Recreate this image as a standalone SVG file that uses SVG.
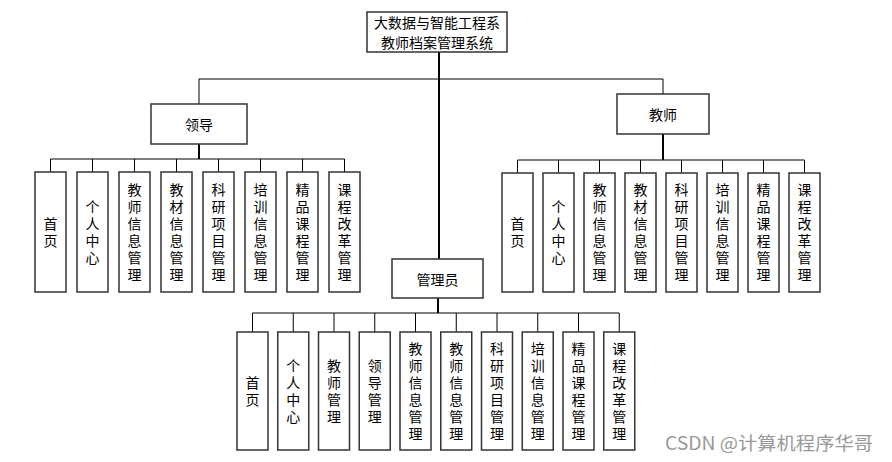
<svg xmlns="http://www.w3.org/2000/svg" width="892" height="462" viewBox="0 0 892 462">
<style>
.box{fill:#fff;stroke:#333;stroke-width:1.5}
.t{font-family:"Noto Sans CJK SC","Noto Sans",sans-serif;font-size:14px;fill:#000;text-anchor:middle;dominant-baseline:central}
.v{font-family:"Noto Sans CJK SC","Noto Sans",sans-serif;font-size:14px;fill:#000;text-anchor:middle;writing-mode:vertical-rl;letter-spacing:3px}
.c line{stroke:#000;stroke-width:1}
.c .th{stroke-width:2}
.wm{font-family:"Noto Sans CJK SC","Liberation Sans",sans-serif;font-size:18px;fill:#999}
</style>
<rect width="892" height="462" fill="#fff"/>
<g class="c" id="connectors">
<line class="th" x1="439" y1="52" x2="439" y2="259"/>
<line x1="199" y1="79" x2="663" y2="79"/>
<line x1="199" y1="79" x2="199" y2="104"/>
<line x1="663" y1="79" x2="663" y2="94"/>
<line class="th" x1="199" y1="144" x2="199" y2="159"/>
<line x1="50.5" y1="159" x2="344.5" y2="159"/>
<line x1="50.5" y1="159" x2="50.5" y2="172"/>
<line x1="92.5" y1="159" x2="92.5" y2="172"/>
<line x1="134.5" y1="159" x2="134.5" y2="172"/>
<line x1="176.5" y1="159" x2="176.5" y2="172"/>
<line x1="218.5" y1="159" x2="218.5" y2="172"/>
<line x1="260.5" y1="159" x2="260.5" y2="172"/>
<line x1="302.5" y1="159" x2="302.5" y2="172"/>
<line x1="344.5" y1="159" x2="344.5" y2="172"/>
<line class="th" x1="663" y1="134" x2="663" y2="160"/>
<line x1="517.5" y1="160" x2="804.5" y2="160"/>
<line x1="517.5" y1="160" x2="517.5" y2="173"/>
<line x1="558.5" y1="160" x2="558.5" y2="173"/>
<line x1="599.5" y1="160" x2="599.5" y2="173"/>
<line x1="640.5" y1="160" x2="640.5" y2="173"/>
<line x1="681.5" y1="160" x2="681.5" y2="173"/>
<line x1="722.5" y1="160" x2="722.5" y2="173"/>
<line x1="763.5" y1="160" x2="763.5" y2="173"/>
<line x1="804.5" y1="160" x2="804.5" y2="173"/>
<line class="th" x1="438" y1="298" x2="438" y2="313"/>
<line x1="252.5" y1="313" x2="619.25" y2="313"/>
<line x1="252.5" y1="313" x2="252.5" y2="332"/>
<line x1="293.25" y1="313" x2="293.25" y2="332"/>
<line x1="334" y1="313" x2="334" y2="332"/>
<line x1="374.75" y1="313" x2="374.75" y2="332"/>
<line x1="415.5" y1="313" x2="415.5" y2="332"/>
<line x1="456.25" y1="313" x2="456.25" y2="332"/>
<line x1="497" y1="313" x2="497" y2="332"/>
<line x1="537.75" y1="313" x2="537.75" y2="332"/>
<line x1="578.5" y1="313" x2="578.5" y2="332"/>
<line x1="619.25" y1="313" x2="619.25" y2="332"/>
</g>
<g id="root"><rect class="box" x="367" y="12" width="140" height="40"/><text class="t" x="437" y="22">大数据与智能工程系</text><text class="t" x="437" y="42">教师档案管理系统</text></g>
<g id="leader"><rect class="box" x="151" y="104" width="96" height="40"/><text class="t" x="199" y="124">领导</text></g>
<g id="teacher"><rect class="box" x="617" y="94" width="92" height="40"/><text class="t" x="663" y="114">教师</text></g>
<g id="admin"><rect class="box" x="392" y="259" width="91" height="39"/><text class="t" x="437.5" y="278.5">管理员</text></g>

<g id="l1"><rect class="box" x="35" y="172" width="31" height="120"/><text class="v" x="50.5" y="233.5">首页</text></g>
<g id="l2"><rect class="box" x="77" y="172" width="31" height="120"/><text class="v" x="92.5" y="233.5">个人中心</text></g>
<g id="l3"><rect class="box" x="119" y="172" width="31" height="120"/><text class="v" x="134.5" y="233.5">教师信息管理</text></g>
<g id="l4"><rect class="box" x="161" y="172" width="31" height="120"/><text class="v" x="176.5" y="233.5">教材信息管理</text></g>
<g id="l5"><rect class="box" x="203" y="172" width="31" height="120"/><text class="v" x="218.5" y="233.5">科研项目管理</text></g>
<g id="l6"><rect class="box" x="245" y="172" width="31" height="120"/><text class="v" x="260.5" y="233.5">培训信息管理</text></g>
<g id="l7"><rect class="box" x="287" y="172" width="31" height="120"/><text class="v" x="302.5" y="233.5">精品课程管理</text></g>
<g id="l8"><rect class="box" x="329" y="172" width="31" height="120"/><text class="v" x="344.5" y="233.5">课程改革管理</text></g>

<g id="t1"><rect class="box" x="502" y="173" width="31" height="119"/><text class="v" x="517.5" y="234">首页</text></g>
<g id="t2"><rect class="box" x="543" y="173" width="31" height="119"/><text class="v" x="558.5" y="234">个人中心</text></g>
<g id="t3"><rect class="box" x="584" y="173" width="31" height="119"/><text class="v" x="599.5" y="234">教师信息管理</text></g>
<g id="t4"><rect class="box" x="625" y="173" width="31" height="119"/><text class="v" x="640.5" y="234">教材信息管理</text></g>
<g id="t5"><rect class="box" x="666" y="173" width="31" height="119"/><text class="v" x="681.5" y="234">科研项目管理</text></g>
<g id="t6"><rect class="box" x="707" y="173" width="31" height="119"/><text class="v" x="722.5" y="234">培训信息管理</text></g>
<g id="t7"><rect class="box" x="748" y="173" width="31" height="119"/><text class="v" x="763.5" y="234">精品课程管理</text></g>
<g id="t8"><rect class="box" x="789" y="173" width="31" height="119"/><text class="v" x="804.5" y="234">课程改革管理</text></g>

<g id="a1"><rect class="box" x="237" y="332" width="31" height="118"/><text class="v" x="252.5" y="392.5">首页</text></g>
<g id="a2"><rect class="box" x="277.75" y="332" width="31" height="118"/><text class="v" x="293.25" y="392.5">个人中心</text></g>
<g id="a3"><rect class="box" x="318.5" y="332" width="31" height="118"/><text class="v" x="334" y="392.5">教师管理</text></g>
<g id="a4"><rect class="box" x="359.25" y="332" width="31" height="118"/><text class="v" x="374.75" y="392.5">领导管理</text></g>
<g id="a5"><rect class="box" x="400" y="332" width="31" height="118"/><text class="v" x="415.5" y="392.5">教师信息管理</text></g>
<g id="a6"><rect class="box" x="440.75" y="332" width="31" height="118"/><text class="v" x="456.25" y="392.5">教师信息管理</text></g>
<g id="a7"><rect class="box" x="481.5" y="332" width="31" height="118"/><text class="v" x="497" y="392.5">科研项目管理</text></g>
<g id="a8"><rect class="box" x="522.25" y="332" width="31" height="118"/><text class="v" x="537.75" y="392.5">培训信息管理</text></g>
<g id="a9"><rect class="box" x="563" y="332" width="31" height="118"/><text class="v" x="578.5" y="392.5">精品课程管理</text></g>
<g id="a10"><rect class="box" x="603.75" y="332" width="31" height="118"/><text class="v" x="619.25" y="392.5">课程改革管理</text></g>

<text class="wm" x="665" y="450" textLength="208" lengthAdjust="spacingAndGlyphs">CSDN @计算机程序华哥</text>
</svg>
